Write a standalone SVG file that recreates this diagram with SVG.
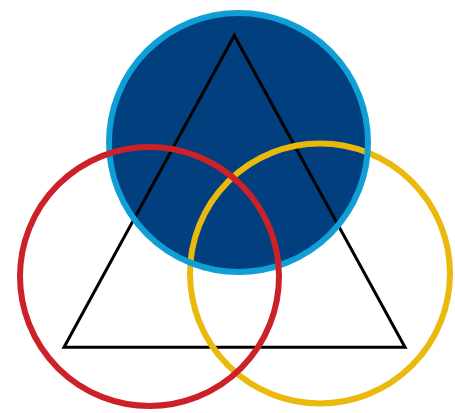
<svg xmlns="http://www.w3.org/2000/svg" width="455" height="413" viewBox="0 0 455 413">
<style>
.ring{fill:none;stroke-width:6}
</style>
<rect width="455" height="413" fill="#ffffff"/>
<g id="blue-fill"><circle cx="238.5" cy="142.5" r="129.5" fill="#013f7e"/></g>
<g id="triangle"><polygon points="234.3,35.5 64,347.3 405,347.3" fill="none" stroke="#000" stroke-width="3"/></g>
<g id="yellow"><circle class="ring" cx="320" cy="273.5" r="130" stroke="#ebb80c"/></g>
<g id="blue-ring"><circle class="ring" cx="238.5" cy="142.5" r="129.5" stroke="#0f9ed6"/></g>
<g id="red"><circle class="ring" cx="149.5" cy="276.5" r="129.5" stroke="#cc2128"/></g>
</svg>
